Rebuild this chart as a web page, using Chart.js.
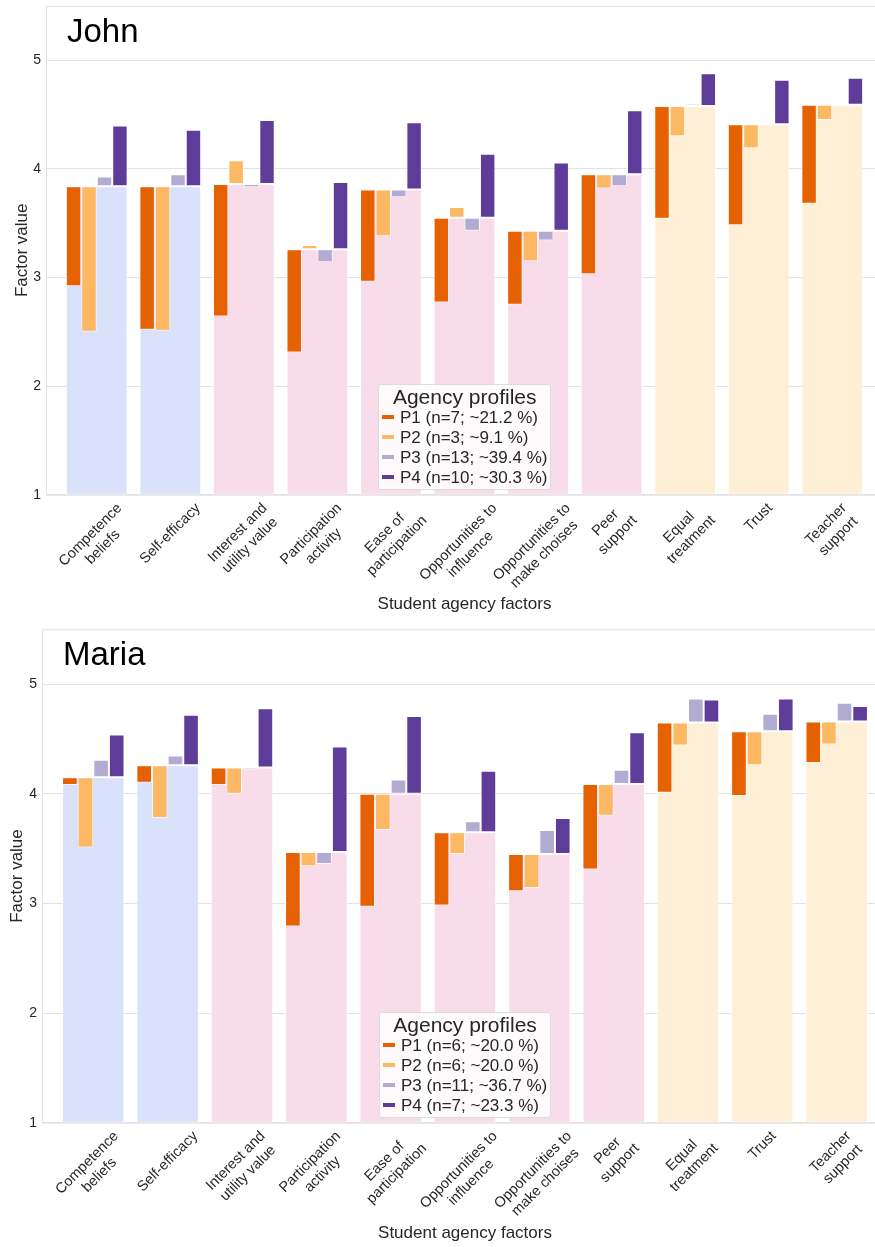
<!DOCTYPE html>
<html>
<head>
<meta charset="utf-8">
<script src="https://cdn.jsdelivr.net/npm/chart.js@4.4.0/dist/chart.umd.min.js"></script>
<style>
    html, body {
        margin: 0;
        padding: 0;
        background: #fff;
    }
    body {
        position: relative;
        width: 875px;
        height: 1247px;
        overflow: hidden;
        font-family: 'Liberation Sans', Arial, sans-serif;
    }
    .panel {
        position: absolute;
        left: 0;
    }
    .panel canvas {
        display: block;
    }
    .legend {
        position: absolute;
        background: rgba(255, 255, 255, 0.85);
        border: 1px solid #dcdcdc;
        border-radius: 3px;
        padding: 1px 3px 1px 3px;
        color: #262626;
        white-space: nowrap;
    }
    .legend .title {
        font-size: 21px;
        line-height: 22px;
        text-align: center;
    }
    .legend .item {
        font-size: 17px;
        line-height: 20px;
    }
    .legend .swatch {
        display: inline-block;
        width: 12px;
        height: 4px;
        margin-right: 6px;
        vertical-align: middle;
        position: relative;
        top: -1px;
    }
</style>
</head>
<body>
<div class="panel" id="johnPanel" style="top:0px"><canvas id="johnChart" width="883" height="618"></canvas></div>
<div class="panel" id="mariaPanel" style="top:618px"><canvas id="mariaChart" width="888" height="629"></canvas></div>

<script>
// Student agency factors (x axis)
const categories = [
    ['Competence', 'beliefs'],
    ['Self-efficacy'],
    ['Interest and', 'utility value'],
    ['Participation', 'activity'],
    ['Ease of', 'participation'],
    ['Opportunities to', 'influence'],
    ['Opportunities to', 'make choises'],
    ['Peer', 'support'],
    ['Equal', 'treatment'],
    ['Trust'],
    ['Teacher', 'support']
];
const factorGroups = [0, 0, 1, 1, 1, 1, 1, 1, 2, 2, 2];
const groupColors = ['#d9e1fb', '#f9dcea', '#fef0d6'];
const profileColors = ['#e66101', '#fdb863', '#b2abd2', '#5e3c99'];
const yTicks = [1, 2, 3, 4, 5];

// John
const johnMeans = [3.84, 3.84, 3.86, 3.26, 3.81, 3.55, 3.43, 3.95, 4.58, 4.41, 4.59];
const johnP1 = [2.92, 2.52, 2.64, 2.31, 2.96, 2.77, 2.75, 3.03, 3.54, 3.48, 3.68];
const johnP2 = [2.50, 2.51, 4.08, 3.30, 3.38, 3.65, 3.15, 3.82, 4.30, 4.19, 4.45];
const johnP3 = [3.93, 3.95, 3.83, 3.14, 3.74, 3.43, 3.34, 3.84, 4.60, 4.42, 4.61];
const johnP4 = [4.40, 4.36, 4.45, 3.88, 4.43, 4.14, 4.06, 4.54, 4.88, 4.82, 4.84];
const johnLegend = ['P1 (n=7; ~21.2 %)', 'P2 (n=3; ~9.1 %)', 'P3 (n=13; ~39.4 %)', 'P4 (n=10; ~30.3 %)'];

// Maria
const mariaMeans = [4.15, 4.26, 4.24, 3.47, 4.00, 3.65, 3.45, 4.09, 4.65, 4.57, 4.66];
const mariaP1 = [4.08, 4.10, 4.08, 2.79, 2.97, 2.98, 3.11, 3.31, 4.01, 3.98, 4.28];
const mariaP2 = [3.51, 3.78, 4.00, 3.34, 3.67, 3.45, 3.14, 3.80, 4.44, 4.26, 4.45];
const mariaP3 = [4.31, 4.35, 4.22, 3.36, 4.13, 3.75, 3.67, 4.22, 4.87, 4.73, 4.83];
const mariaP4 = [4.54, 4.72, 4.78, 4.43, 4.71, 4.21, 3.78, 4.56, 4.86, 4.87, 4.80];
const mariaLegend = ['P1 (n=6; ~20.0 %)', 'P2 (n=6; ~20.0 %)', 'P3 (n=11; ~36.7 %)', 'P4 (n=7; ~23.3 %)'];

const FONT = "'Liberation Sans', Arial, sans-serif";
const TEXT = '#262626';
const LINE = '#e2e2e2';

// Frame, panel name and rotated factor labels
const panelDecor = {
    id: 'panelDecor',
    afterDatasetsDraw(chart, args, opts) {
        const {ctx, chartArea: a} = chart;
        const xs = chart.scales.x;
        ctx.save();
        ctx.strokeStyle = LINE;
        ctx.lineWidth = 1;
        ctx.strokeRect(a.left + 0.5, a.top + 0.5, a.right - a.left - 1, a.bottom - a.top);

        ctx.fillStyle = '#000';
        ctx.font = `33px ${FONT}`;
        ctx.textBaseline = 'alphabetic';
        ctx.textAlign = 'left';
        ctx.fillText(opts.name, a.left + 21, a.top + 36);

        // factor labels, rotated 45deg, bbox centred under each bar group
        const size = 14.5;
        const lh = size * 1.2;
        ctx.font = `${size}px ${FONT}`;
        ctx.fillStyle = TEXT;
        ctx.textAlign = 'center';
        ctx.textBaseline = 'middle';
        categories.forEach((lines, i) => {
            const w = Math.max(...lines.map(l => ctx.measureText(l).width));
            const h = lines.length * lh;
            const box = (w + h) * Math.SQRT1_2;
            const cx = xs.getPixelForValue(i);
            const cy = a.bottom + 5 + box / 2;
            ctx.save();
            ctx.translate(cx, cy);
            ctx.rotate(-Math.PI / 4);
            lines.forEach((ln, k) => ctx.fillText(ln, 0, -h / 2 + lh * (k + 0.5)));
            ctx.restore();
        });
        ctx.restore();
    }
};

function buildLegend(chart, panelEl, labels) {
    const box = document.createElement('div');
    box.className = 'legend';
    let html = '<div class="title">Agency profiles</div>';
    labels.forEach((lab, i) => {
        html += `<div class="item"><span class="swatch" style="background:${profileColors[i]}"></span>${lab}</div>`;
    });
    box.innerHTML = html;
    panelEl.appendChild(box);
    const a = chart.chartArea;
    const w = box.offsetWidth;
    const h = box.offsetHeight;
    box.style.left = ((a.left + a.right) / 2 - w / 2) + 'px';
    box.style.top = (a.bottom - 5 - h) + 'px';
}

function makePanel(cfg) {
    const profiles = [cfg.p1, cfg.p2, cfg.p3, cfg.p4];

    const datasets = profiles.map((vals, p) => ({
        label: cfg.legend[p],
        data: vals.map((v, i) => ({x: i, y: [cfg.means[i], v]})),
        backgroundColor: profileColors[p],
        borderColor: 'rgba(255,255,255,0.7)',
        borderWidth: 1,
        borderSkipped: false,
        categoryPercentage: 0.84,
        barPercentage: 1,
        order: 0
    }));

    // overall mean per factor, behind the profile bars
    datasets.push({
        label: 'mean',
        data: cfg.means.map((m, i) => ({x: i, y: [1, m]})),
        backgroundColor: factorGroups.map(g => groupColors[g]),
        borderColor: 'rgba(255,255,255,0.7)',
        borderWidth: 1,
        borderSkipped: false,
        grouped: false,
        categoryPercentage: 0.84,
        barPercentage: 1,
        order: 1
    });

    const canvas = document.getElementById(cfg.canvas);
    const chart = new Chart(canvas, {
        type: 'bar',
        data: {datasets},
        options: {
            responsive: false,
            animation: false,
            layout: {padding: {top: cfg.padTop, left: 0, right: 0, bottom: 0}},
            plugins: {
                legend: {display: false},
                tooltip: {enabled: false},
                panelDecor: {name: cfg.name}
            },
            scales: {
                x: {
                    type: 'linear',
                    offset: false,
                    min: -0.69,
                    max: 10.69,
                    grid: {display: false, offset: false},
                    border: {display: false},
                    ticks: {display: false, stepSize: 1, includeBounds: false},
                    title: {
                        display: true,
                        text: 'Student agency factors',
                        color: TEXT,
                        font: {family: FONT, size: 17},
                        padding: {top: 0, bottom: cfg.xTitlePad}
                    },
                    afterFit: (s) => {
                        s.height = cfg.xHeight;
                        s.paddingLeft = 0;
                        s.paddingRight = 0;
                    }
                },
                y: {
                    min: 1,
                    max: 5.5,
                    grid: {color: LINE, drawTicks: false},
                    border: {display: false},
                    afterBuildTicks: (s) => { s.ticks = yTicks.map(v => ({value: v})); },
                    ticks: {
                        color: TEXT,
                        padding: 5,
                        font: {family: FONT, size: 14}
                    },
                    title: {
                        display: true,
                        text: 'Factor value',
                        color: TEXT,
                        font: {family: FONT, size: 17},
                        padding: {top: cfg.yTitlePad, bottom: 0}
                    },
                    afterFit: (s) => {
                        s.width = cfg.yWidth;
                        s.paddingTop = 0;
                        s.paddingBottom = 0;
                    }
                }
            }
        },
        plugins: [panelDecor]
    });

    buildLegend(chart, document.getElementById(cfg.panel), cfg.legend);
    return chart;
}

makePanel({
    name: 'John', canvas: 'johnChart', panel: 'johnPanel',
    means: johnMeans, p1: johnP1, p2: johnP2, p3: johnP3, p4: johnP4, legend: johnLegend,
    padTop: 6, xHeight: 123.3, xTitlePad: 3, yWidth: 46, yTitlePad: 12
});

makePanel({
    name: 'Maria', canvas: 'mariaChart', panel: 'mariaPanel',
    means: mariaMeans, p1: mariaP1, p2: mariaP2, p3: mariaP3, p4: mariaP4, legend: mariaLegend,
    padTop: 11.3, xHeight: 124.3, xTitlePad: 3.5, yWidth: 42, yTitlePad: 7
});
</script>
</body>
</html>
